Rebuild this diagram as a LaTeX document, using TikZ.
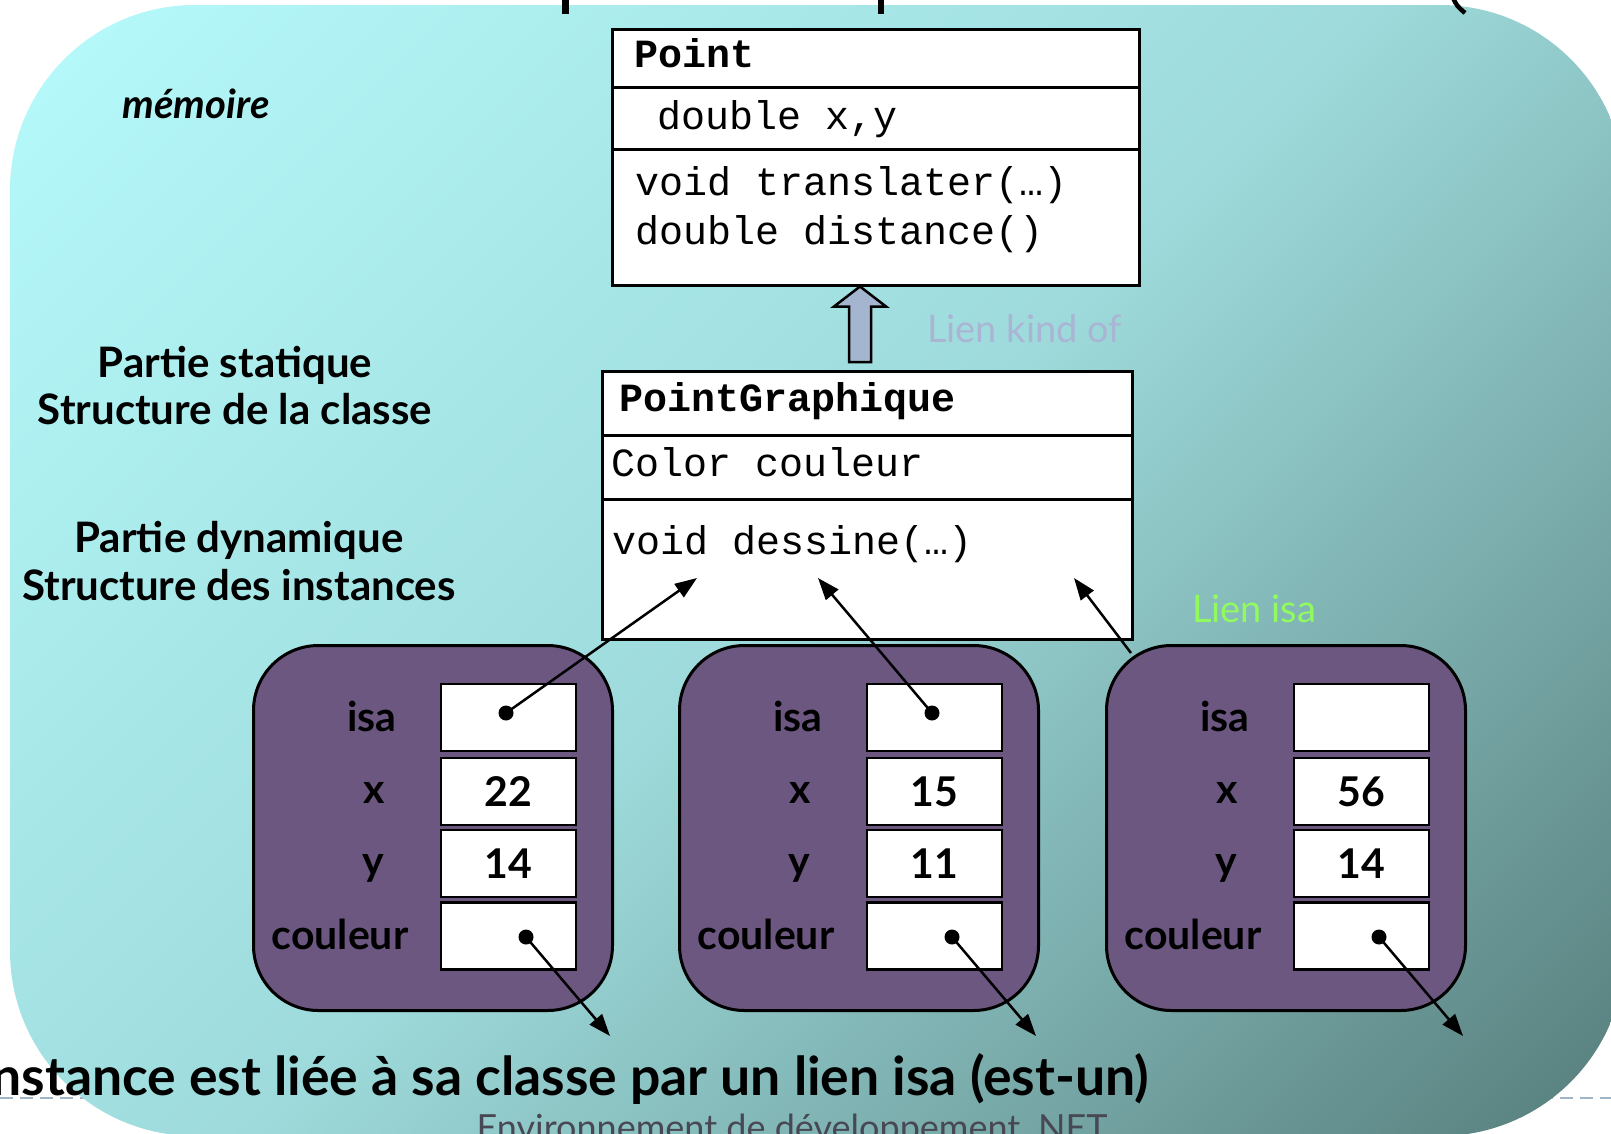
\documentclass[tikz,border=0pt]{standalone}
\usepackage{fontspec}
\setmainfont{Lato}
\newfontfamily\gill{Lato}
\newfontfamily\cour{Liberation Mono}
\usetikzlibrary{arrows.meta,calc}
\definecolor{bgL}{RGB}{182,250,251}
\definecolor{bgM}{RGB}{158,218,219}
\definecolor{bgD}{RGB}{86,126,124}
\definecolor{instfill}{RGB}{108,87,129}
\definecolor{kindfill}{RGB}{163,181,207}
\definecolor{kindtxt}{RGB}{170,181,211}
\definecolor{isatxt}{RGB}{145,250,95}
\definecolor{footgray}{RGB}{72,72,84}
\definecolor{dashcol}{RGB}{160,180,200}
\pgfdeclareverticalshading{bgshade}{100bp}{color(0bp)=(bgD); color(15bp)=(bgD); color(50bp)=(bgM); color(85bp)=(bgL); color(100bp)=(bgL)}
\begin{document}
\begin{tikzpicture}[x=1pt,y=-1pt,
  box/.style={draw=black, line width=2.5, fill=white, inner sep=0, anchor=north west},
  mono/.style={font=\cour\fontsize{40}{40}\selectfont, inner sep=0, anchor=base west},
  monob/.style={font=\cour\bfseries\fontsize{40}{40}\selectfont, inner sep=0, anchor=base west},
  inst/.style={draw=black, line width=3, fill=instfill, rounded corners=65, inner sep=0, minimum width=359, minimum height=365, anchor=north west},
  val/.style={draw=black, line width=2.5, fill=white, minimum width=135, minimum height=67, inner sep=0, font=\gill\bfseries\fontsize{41}{41}\selectfont},
  lbl/.style={font=\gill\bfseries\fontsize{41}{41}\selectfont, inner sep=0, anchor=base},
  side/.style={font=\gill\bfseries\fontsize{42}{47}\selectfont, inner sep=0, anchor=base},
  dotn/.style={circle, fill=black, inner sep=0, minimum size=15},
  link/.style={line width=2.5, -{Triangle[length=22pt,width=16pt]}},
  kind/.style={draw=black, fill=kindfill, line width=2.5, line join=miter},
]
\useasboundingbox (0,0) rectangle (1611,1133);
% footer dashed rule
\draw[dashcol, line width=2.5, dash pattern=on 13pt off 7pt] (0,1098) -- (1611,1098);
% background
\path[shading=bgshade, shading angle=45, rounded corners=185] (10,5) rectangle (1625,1136);
% cut-off title descenders
\fill (562,0) rectangle (569,14);
\fill (878,0) rectangle (884,14);
\draw[line width=4.5] (1453,-2) .. controls (1457,6) .. (1465,13);

% class Point
\node[box, minimum width=527, minimum height=58] (pointN) at (611,28) {};
\node[box, minimum width=527, minimum height=62] (pointA) at (611,86) {};
\node[box, minimum width=527, minimum height=136] (pointM) at (611,148) {};
\node[monob] (tPoint) at (634,67) {Point};
\node[mono] (tXY) at (657,129) {double x,y};
\node[mono] (tTr) at (635,195) {void translater(…)};
\node[mono] (tDi) at (635,244) {double distance()};

% class PointGraphique
\node[box, minimum width=530, minimum height=64] (pgN) at (601,370) {};
\node[box, minimum width=530, minimum height=64] (pgA) at (601,434) {};
\node[box, minimum width=530, minimum height=140] (pgM) at (601,498) {};
\node[monob] (tPG) at (619,411) {PointGraphique};
\node[mono] (tCol) at (611,476) {Color couleur};
\node[mono] (tDes) at (612,554) {void dessine(…)};

% kind-of arrow
\coordinate (kTip) at ($(pointM.south west)+(249,0)$);
\coordinate (kBase) at ($(pgN.north west)+(259,-8)$);
\draw[kind] (kTip) -- ++(26,20) -- ++(-15,0) -- ($(kBase)+(11,0)$) -- ($(kBase)+(-11,0)$) -- ($(kTip)+(-11,20)$) -- ($(kTip)+(-26,20)$) -- cycle;
\node[font=\gill\fontsize{38}{38}\selectfont, text=kindtxt, inner sep=0, anchor=base west] (lkind) at (927,342) {Lien kind of};

% side texts
\node[font=\gill\bfseries\itshape\fontsize{40}{40}\selectfont, inner sep=0, anchor=base] (mem) at (196,118) {mémoire};
\node[side] (ps1) at (235,377) {Partie statique};
\node[side] (ps2) at (235,424) {Structure de la classe};
\node[side] (pd1) at (239,552) {Partie dynamique};
\node[side] (pd2) at (239,600) {Structure des instances};

% instances
\foreach \i/\dx/\vx/\vy in {1/0/22/14, 2/426/15/11, 3/853/56/14}{
  \node[inst] (inst\i) at (252+\dx,644) {};
  \node[val] (isa\i) at (508.5+\dx,717.5) {};
  \node[val] (x\i) at (508.5+\dx,791.5) {\vx};
  \node[val] (y\i) at (508.5+\dx,863.5) {\vy};
  \node[val] (c\i) at (508.5+\dx,936) {};
  \node[lbl] (lisa\i) at (372+\dx,731) {isa};
  \node[lbl] (lx\i) at (374+\dx,803) {x};
  \node[lbl] (ly\i) at (373+\dx,875) {y};
  \node[lbl] (lc\i) at (340+\dx,949) {couleur};
  \node[dotn] (cd\i) at (526+\dx,937) {};
  \coordinate (ct\i) at (610+\dx,1036);
  \draw[link] (cd\i.center) -- (ct\i);
}
\node[dotn] (id1) at (506,713) {};
\node[dotn] (id2) at (932,713) {};
\coordinate (it1) at (697,578);
\coordinate (it2) at (818,578);
\coordinate (it3) at (1074,578);
\coordinate (is3) at (1131,653);
\draw[link] (id1.center) -- (it1);
\draw[link] (id2.center) -- (it2);
\draw[link] (is3) -- (it3);
\node[font=\gill\fontsize{38}{38}\selectfont, text=isatxt, inner sep=0, anchor=base west] (lisa) at (1192,622) {Lien isa};

% bottom texts
\node[font=\gill\bfseries\fontsize{53.5}{53.5}\selectfont, anchor=base east, inner sep=0] (bot) at (1149,1095) {nstance est liée à sa classe par un lien isa (est-un)};
\node[font=\gill\fontsize{36}{36}\selectfont, text=footgray, anchor=base, inner sep=0] (foot) at (792,1140) {Environnement de développement .NET};
\end{tikzpicture}
\end{document}
